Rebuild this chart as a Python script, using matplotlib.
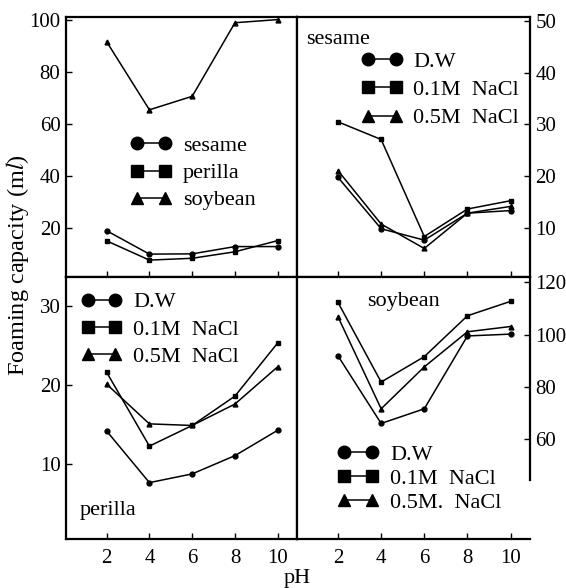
import matplotlib.pyplot as plt
from matplotlib.lines import Line2D

plt.rcParams['font.family'] = 'Liberation Serif'
plt.rcParams['mathtext.fontset'] = 'stix'

ph = [2, 4, 6, 8, 10]

# panel a: D.W, the three seeds (0-100)
sesame = [18.8, 9.8, 9.9, 12.7, 12.7]
perilla = [14.9, 7.5, 8.2, 10.7, 15.0]
soybean = [91.5, 65.3, 70.5, 98.8, 100.0]

# panel b: sesame (0-50)
ses_dw = [19.8, 9.9, 7.7, 12.9, 13.4]
ses_01 = [30.5, 27.1, 8.4, 13.7, 15.3]
ses_05 = [21.1, 10.8, 6.1, 12.9, 14.2]

# panel c: perilla
per_dw = [14.2, 7.7, 8.8, 11.1, 14.3]
per_01 = [21.6, 12.3, 14.9, 18.6, 25.3]
per_05 = [20.1, 15.1, 14.9, 17.6, 22.3]

# panel d: soybean
soy_dw = [91.9, 66.1, 71.7, 99.5, 100.2]
soy_01 = [112.3, 81.9, 91.6, 107.2, 112.7]
soy_05 = [106.8, 71.7, 87.7, 101.1, 103.1]

seed_names = ['sesame', 'perilla', 'soybean']
salt_names = ['D.W', '0.1M  NaCl', '0.5M  NaCl']
markers = ['o', 's', '^']

fig = plt.figure(figsize=(5.66, 5.88), dpi=100)
W, H = 566, 588


def box(x0, y0, x1, y1):
    return [x0 / W, 1 - y1 / H, (x1 - x0) / W, (y1 - y0) / H]


ax1 = fig.add_axes(box(66, 17, 297, 277))
ax2 = fig.add_axes(box(297, 17, 530, 277))
ax3 = fig.add_axes(box(66, 277, 297, 539))
ax4 = fig.add_axes(box(297, 277, 530, 539))

fs = 16


def draw(ax, series):
    for ys, m in zip(series, markers):
        ax.plot(ph, ys, color='black', lw=1.1, marker=m, ms=3.5)
    ax.set_xlim(0.1, 10.9)
    ax.set_xticks(ph)
    for s in ax.spines.values():
        s.set_linewidth(1.6)
    ax.tick_params(direction='in', length=4, width=1, labelsize=15)


def legend(ax, names, x, y, spacing):
    handles = [Line2D([0], [0], color='black', lw=1.1, marker=m, ms=9)
               for m in markers]
    ax.legend(handles, names, loc='center left', bbox_to_anchor=(x, y),
              frameon=False, numpoints=2, handlelength=1.85,
              handletextpad=0.5, labelspacing=spacing, borderpad=0,
              borderaxespad=0, fontsize=fs)


draw(ax1, [sesame, perilla, soybean])
ax1.set_ylim(1, 101)
ax1.set_yticks([20, 40, 60, 80, 100])
ax1.tick_params(labelbottom=False, pad=4)
legend(ax1, seed_names, 0.28, 0.40, 0.3)

draw(ax2, [ses_dw, ses_01, ses_05])
ax2.set_ylim(0.6, 50.7)
ax2.set_yticks([10, 20, 30, 40, 50])
ax2.yaxis.tick_right()
ax2.tick_params(labelbottom=False, pad=4)
ax2.text(0.04, 0.915, 'sesame', transform=ax2.transAxes, fontsize=fs,
         va='center', ha='left')
legend(ax2, salt_names, 0.275, 0.72, 0.35)

draw(ax3, [per_dw, per_01, per_05])
ax3.set_ylim(0.6, 33.6)
ax3.set_yticks([10, 20, 30])
ax3.tick_params(axis='x', pad=7)
ax3.text(0.06, 0.11, 'perilla', transform=ax3.transAxes, fontsize=fs,
         va='center', ha='left')
legend(ax3, salt_names, 0.065, 0.80, 0.3)

draw(ax4, [soy_dw, soy_01, soy_05])
ax4.set_ylim(22, 122)
ax4.set_yticks([60, 80, 100, 120])
ax4.yaxis.tick_right()
ax4.tick_params(axis='x', pad=7)
ax4.spines['right'].set_bounds(44.6, 122)
ax4.text(0.30, 0.905, 'soybean', transform=ax4.transAxes, fontsize=fs,
         va='center', ha='left')
legend(ax4, ['D.W', '0.1M  NaCl', '0.5M.  NaCl'], 0.175, 0.23, 0.15)

fig.text(18 / W, 1 - 265 / H, r'Foaming capacity (m$\it{l}$)', rotation=90,
         fontsize=17.5, ha='center', va='center')
fig.text(297 / W, 1 - 578 / H, 'pH', fontsize=fs, ha='center', va='center')

fig.savefig('out.png', dpi=100)
